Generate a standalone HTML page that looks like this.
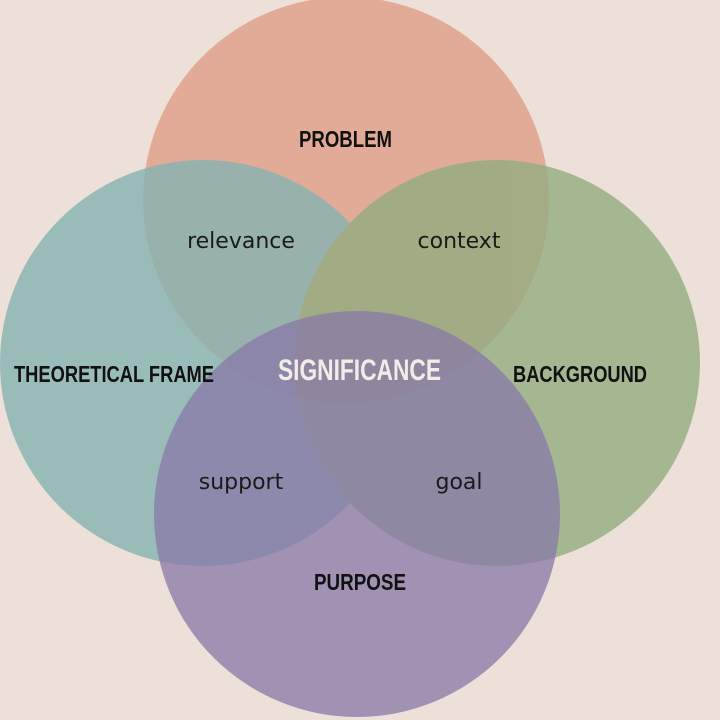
<!DOCTYPE html>
<html><head><style>
html,body{margin:0;padding:0;background:#ece0d8;}
svg{display:block}
.cap{font-family:"Liberation Sans","DejaVu Sans",sans-serif;font-weight:bold;font-size:23px;fill:#111;}
.low{font-family:"DejaVu Sans","Liberation Sans",sans-serif;font-size:22px;fill:#1a1a1a;}
</style></head><body>
<svg width="720" height="720" viewBox="0 0 720 720">
<rect width="720" height="720" fill="#ece0d8"/>
<circle cx="346" cy="200" r="203" fill="#e2ab97"/>
<g opacity="0.8">
<circle cx="203" cy="363" r="203" fill="#86b3b2"/>
<circle cx="497" cy="363" r="203" fill="#93ad80"/>
</g>
<g opacity="0.75">
<circle cx="357" cy="514" r="203" fill="#8878a8"/>
</g>
<text class="cap" x="14" y="382" textLength="200" lengthAdjust="spacingAndGlyphs">THEORETICAL FRAME</text>
<text class="cap" x="299" y="147" textLength="93" lengthAdjust="spacingAndGlyphs">PROBLEM</text>
<text class="cap" x="513" y="382" textLength="134" lengthAdjust="spacingAndGlyphs">BACKGROUND</text>
<text class="cap" x="314" y="590" textLength="92" lengthAdjust="spacingAndGlyphs">PURPOSE</text>
<text class="cap" x="278" y="380" textLength="163" lengthAdjust="spacingAndGlyphs" style="fill:#f3ece6;font-size:30px">SIGNIFICANCE</text>
<text class="low" x="241" y="248" text-anchor="middle">relevance</text>
<text class="low" x="459" y="248" text-anchor="middle">context</text>
<text class="low" x="241" y="489" text-anchor="middle">support</text>
<text class="low" x="459" y="489" text-anchor="middle">goal</text>
</svg>
</body></html>
